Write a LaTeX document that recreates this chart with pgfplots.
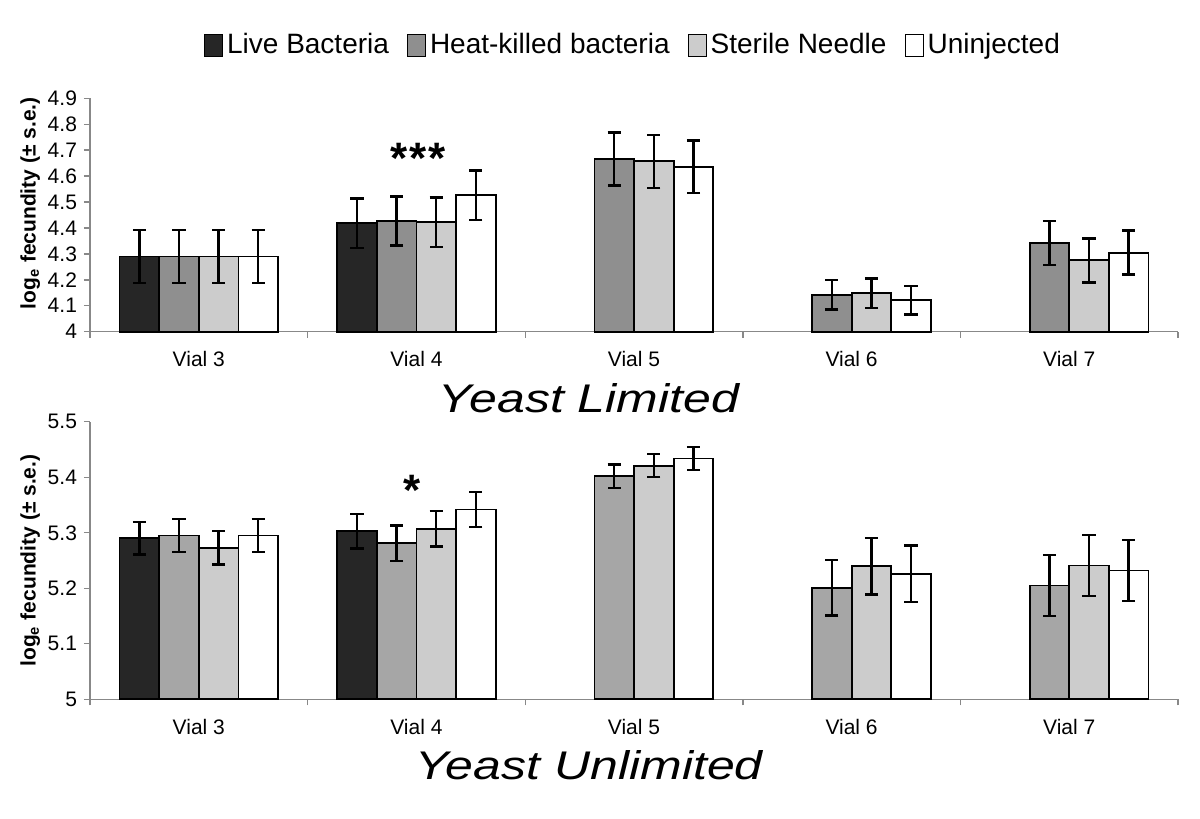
\documentclass[border=0pt]{standalone}
\usepackage{fontspec}
\setmainfont{Liberation Sans}
\newfontfamily\titlefont[FakeStretch=1.25]{Liberation Sans}
\usepackage{pgfplots}
\pgfplotsset{compat=1.18}

\definecolor{live}{HTML}{262626}
\definecolor{heatA}{HTML}{8F8F8F}
\definecolor{heatB}{HTML}{A6A6A6}
\definecolor{steril}{HTML}{CCCCCC}
\definecolor{axgray}{HTML}{888888}

\pgfplotsset{
  vialaxis/.style={
    scale only axis, width=544pt,
    xmin=-0.5, xmax=4.5, clip=false,
    axis x line*=bottom, axis y line*=left,
    axis line style={draw=axgray, line width=0.7pt},
    tick style={draw=axgray, line width=0.7pt},
    tick align=outside, major tick length=3pt,
    xtick={-0.5,0.5,1.5,2.5,3.5,4.5}, xticklabels={},
    extra x ticks={0,1,2,3,4},
    extra x tick labels={Vial 3,Vial 4,Vial 5,Vial 6,Vial 7},
    extra x tick style={major tick length=0pt,
      xticklabel style={font=\fontsize{10.5}{12}\selectfont, anchor=base, yshift=-17.6pt}},
    /pgf/number format/assume math mode=true,
    yticklabel style={font=\fontsize{10.5}{12}\selectfont},
    ylabel={log\textsubscript{e} fecundity (± s.e.)},
    ybar, bar width=0.182,
  },
  eb/.style={
    error bars/.cd, y dir=both, y explicit,
    error bar style={line width=1.2pt, black},
    error mark options={rotate=90, mark size=3.3pt, line width=1.2pt, black}},
}

\begin{document}
\begin{tikzpicture}
\useasboundingbox (0,0) rectangle (600pt,409.5pt);

% Yeast limited
\begin{axis}[vialaxis, at={(45pt,243.65pt)}, anchor=south west,
  height=116.7pt, ymin=4, ymax=4.9,
  ytick={4,4.1,4.2,4.3,4.4,4.5,4.6,4.7,4.8,4.9},
  ylabel style={font=\fontsize{10.5}{12}\selectfont\bfseries,
    at={(axis description cs:-0.055,0.55)}, anchor=center},
  legend columns=4,
  legend style={draw=none, at={(0.5,1)}, anchor=center, yshift=26.6pt,
    font=\fontsize{14}{16}\selectfont,
    /tikz/every even column/.append style={column sep=7pt}},
  legend image code/.code={\draw[#1, draw=black, line width=0.5pt] (0pt,-5.5pt) rectangle (9pt,5.5pt);},
  ]
\addplot[draw=black, line width=0.9pt, fill=live, bar shift=-0.273, eb] coordinates {
  (0,4.290) +- (0,0.103)
  (1,4.418) +- (0,0.095)
};
\addplot[draw=black, line width=0.9pt, fill=heatA, bar shift=-0.091, eb] coordinates {
  (0,4.290) +- (0,0.103)
  (1,4.427) +- (0,0.095)
  (2,4.666) +- (0,0.102)
  (3,4.142) +- (0,0.057)
  (4,4.342) +- (0,0.085)
};
\addplot[draw=black, line width=0.9pt, fill=steril, bar shift=0.091, eb] coordinates {
  (0,4.290) +- (0,0.103)
  (1,4.422) +- (0,0.095)
  (2,4.657) +- (0,0.102)
  (3,4.148) +- (0,0.057)
  (4,4.275) +- (0,0.085)
};
\addplot[draw=black, line width=0.9pt, fill=white, bar shift=0.273, eb] coordinates {
  (0,4.290) +- (0,0.103)
  (1,4.526) +- (0,0.095)
  (2,4.636) +- (0,0.102)
  (3,4.121) +- (0,0.055)
  (4,4.305) +- (0,0.085)
};
\legend{Live Bacteria, Heat-killed bacteria, Sterile Needle, Uninjected}
\node[font=\fontsize{22}{22}\selectfont\bfseries, yshift=-2.5pt] at (axis cs:1.007,4.689) {*\kern1pt*\kern1pt*};
\end{axis}

% Yeast unlimited
\begin{axis}[vialaxis, at={(45pt,59.85pt)}, anchor=south west,
  height=138.75pt, ymin=5, ymax=5.5,
  ytick={5,5.1,5.2,5.3,5.4,5.5},
  ylabel style={font=\fontsize{10.5}{12}\selectfont\bfseries,
    at={(axis description cs:-0.055,0.5)}, anchor=center},
  ]
\addplot[draw=black, line width=0.9pt, fill=live, bar shift=-0.273, eb] coordinates {
  (0,5.290) +- (0,0.029)
  (1,5.303) +- (0,0.031)
};
\addplot[draw=black, line width=0.9pt, fill=heatB, bar shift=-0.091, eb] coordinates {
  (0,5.295) +- (0,0.030)
  (1,5.281) +- (0,0.032)
  (2,5.402) +- (0,0.021)
  (3,5.201) +- (0,0.050)
  (4,5.205) +- (0,0.055)
};
\addplot[draw=black, line width=0.9pt, fill=steril, bar shift=0.091, eb] coordinates {
  (0,5.273) +- (0,0.030)
  (1,5.307) +- (0,0.032)
  (2,5.421) +- (0,0.021)
  (3,5.240) +- (0,0.051)
  (4,5.241) +- (0,0.055)
};
\addplot[draw=black, line width=0.9pt, fill=white, bar shift=0.273, eb] coordinates {
  (0,5.295) +- (0,0.030)
  (1,5.342) +- (0,0.032)
  (2,5.434) +- (0,0.021)
  (3,5.226) +- (0,0.051)
  (4,5.232) +- (0,0.055)
};
\node[font=\fontsize{22}{22}\selectfont\bfseries, yshift=-2.5pt] at (axis cs:0.98,5.386) {*};
\end{axis}

\node[font=\titlefont\itshape\fontsize{20}{20}\selectfont, anchor=base] at (294.5pt,203pt) {Yeast Limited};
\node[font=\titlefont\itshape\fontsize{20}{20}\selectfont, anchor=base] at (294.5pt,19.5pt) {Yeast Unlimited};
\end{tikzpicture}
\end{document}
